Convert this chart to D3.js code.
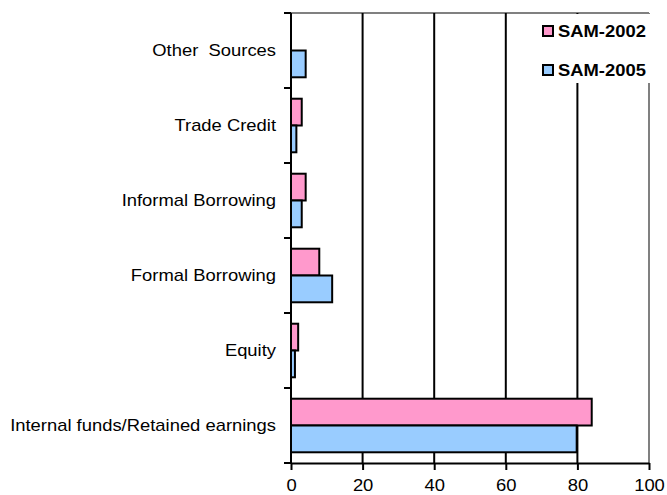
<!DOCTYPE html>
<html>
<head>
<meta charset="utf-8">
<script src="https://cdn.jsdelivr.net/npm/d3@7"></script>
<style>
  html, body { margin: 0; padding: 0; background: #fff; }
  svg { display: block; font-family: "Liberation Sans", Arial, sans-serif; }
</style>
</head>
<body>
<svg id="chart" width="667" height="495"></svg>
<script>
// Sources of finance, share of firms (%)
const categories = [
  "Other  Sources",
  "Trade Credit",
  "Informal Borrowing",
  "Formal Borrowing",
  "Equity",
  "Internal funds/Retained earnings"
];
const seriesNames = ["SAM-2002", "SAM-2005"];
const sam2002 = [0, 3.0, 4.1, 7.9, 2.0, 84.0];
const sam2005 = [4.1, 1.5, 3.0, 11.5, 1.1, 79.8];
const xTicks = [0, 20, 40, 60, 80, 100];
const colors = ["#ff99cc", "#99ccff"];

const svg = d3.select("#chart");
const margin = { left: 291, right: 18, top: 13, bottom: 32 };
const W = 667, H = 495;
const FONT = 16;       // label size
const STRETCH = 1.15;  // horizontal widening of all text

const x = d3.scaleLinear().domain([0, 100]).range([margin.left, W - margin.right]);
const y = d3.scaleBand().domain(categories).range([margin.top, H - margin.bottom]);
const inner = d3.scaleBand().domain(seriesNames).range([0, y.bandwidth()]).paddingOuter(0.4);

const rows = categories.map((c, i) => ({ cat: c, values: [sam2002[i], sam2005[i]] }));

// Text helper: places a widened label with its anchor at (tx, ty)
function label(parent, tx, ty, str, anchor, bold) {
  return parent.append("text")
    .attr("transform", `translate(${tx},${ty}) scale(${STRETCH},1)`)
    .attr("text-anchor", anchor)
    .attr("font-size", FONT)
    .attr("font-weight", bold ? "bold" : "normal")
    .attr("fill", "#000")
    .style("white-space", "pre")
    .text(str);
}

// Plot frame: top and right edges in gray
svg.append("line")
  .attr("x1", x(0)).attr("x2", x(100))
  .attr("y1", margin.top).attr("y2", margin.top)
  .attr("stroke", "#808080").attr("stroke-width", 2);
svg.append("line")
  .attr("x1", x(100)).attr("x2", x(100))
  .attr("y1", margin.top).attr("y2", H - margin.bottom)
  .attr("stroke", "#808080").attr("stroke-width", 2);

// Vertical gridlines
svg.append("g").selectAll("line")
  .data(xTicks.filter(t => t > 0 && t < 100))
  .join("line")
  .attr("x1", d => x(d)).attr("x2", d => x(d))
  .attr("y1", margin.top).attr("y2", H - margin.bottom)
  .attr("stroke", "#000").attr("stroke-width", 2);

// Bars
const groups = svg.append("g").selectAll("g")
  .data(rows)
  .join("g")
  .attr("transform", d => `translate(0,${y(d.cat)})`);

groups.selectAll("rect")
  .data(d => d.values.map((v, j) => ({ name: seriesNames[j], v, j })).filter(e => e.v > 0))
  .join("rect")
  .attr("x", x(0))
  .attr("y", d => inner(d.name))
  .attr("width", d => x(d.v) - x(0))
  .attr("height", inner.bandwidth())
  .attr("fill", d => colors[d.j])
  .attr("stroke", "#000")
  .attr("stroke-width", 2);

// Bottom axis
const xAxis = svg.append("g")
  .attr("transform", `translate(0,${H - margin.bottom})`)
  .call(d3.axisBottom(x).tickValues(xTicks).tickSize(7).tickSizeOuter(0).tickFormat(""));
xAxis.select(".domain").attr("stroke", "#000").attr("stroke-width", 2);
xAxis.selectAll(".tick line").attr("stroke", "#000").attr("stroke-width", 2);
xAxis.selectAll(".tick").each(function (d) {
  label(d3.select(this), 0, 27.5, String(d), "middle", false);
});

// Left axis: category boundary ticks and labels
const yEdges = categories.map(c => y(c)).concat([H - margin.bottom]);
svg.append("line")
  .attr("x1", x(0)).attr("x2", x(0))
  .attr("y1", margin.top).attr("y2", H - margin.bottom)
  .attr("stroke", "#000").attr("stroke-width", 2);
svg.append("g").selectAll("line")
  .data(yEdges)
  .join("line")
  .attr("x1", x(0) - 7).attr("x2", x(0))
  .attr("y1", d => d).attr("y2", d => d)
  .attr("stroke", "#000").attr("stroke-width", 2);
const yLabels = svg.append("g");
categories.forEach(c => {
  label(yLabels, x(0) - 15, y(c) + y.bandwidth() / 2 + 5.7, c, "end", false);
});

// Legend box
const legend = svg.append("g");
legend.append("rect")
  .attr("x", 527).attr("y", 14)
  .attr("width", 140).attr("height", 69)
  .attr("fill", "#fff");
seriesNames.forEach((name, i) => {
  const ly = 31 + i * 39;
  legend.append("rect")
    .attr("x", 543).attr("y", ly - 5)
    .attr("width", 10).attr("height", 10)
    .attr("fill", colors[i]).attr("stroke", "#000").attr("stroke-width", 2);
  label(legend, 558, ly + 5.8, name, "start", true);
});
</script>
</body>
</html>
